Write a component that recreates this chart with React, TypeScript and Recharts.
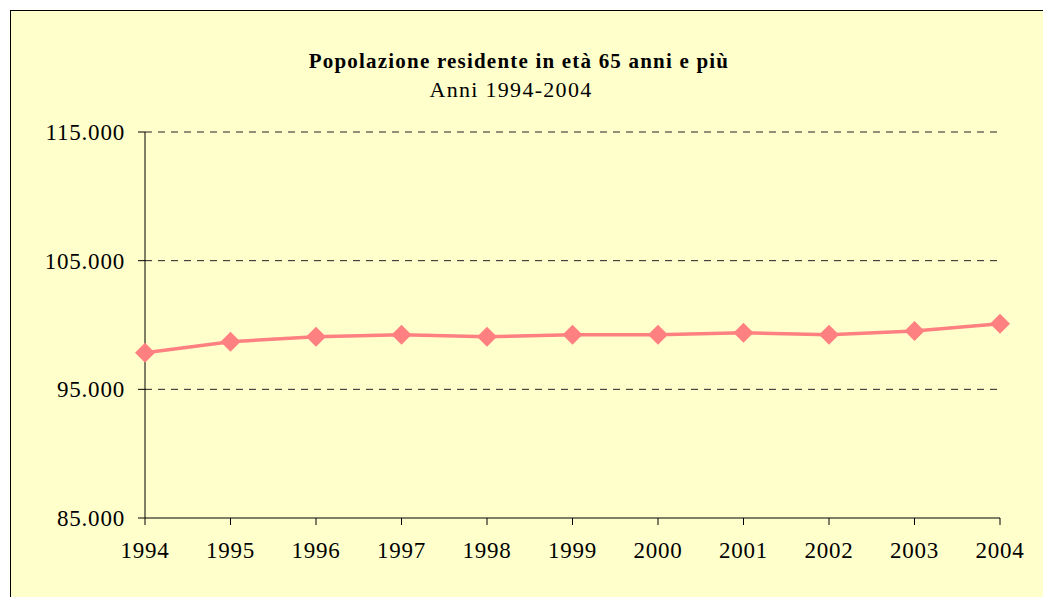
import { LineChart, Line, XAxis, YAxis, CartesianGrid } from "recharts";

const years = ["1994", "1995", "1996", "1997", "1998", "1999", "2000", "2001", "2002", "2003", "2004"];
const population = [97850, 98700, 99090, 99250, 99090, 99250, 99250, 99400, 99250, 99530, 100100];
const yTicks = [85000, 95000, 105000, 115000];
const gridValues = [95000, 105000, 115000];

const data = years.map((year, i) => ({ year, value: population[i] }));

// 85000 -> "85.000"
function formatThousands(v: number): string {
  return String(Math.round(v)).replace(/\B(?=(\d{3})+(?!\d))/g, ".");
}

const PINK = "#FF8080";
const FONT = "'Liberation Serif', 'Times New Roman', serif";

function Diamond(props: any) {
  const { cx, cy, index } = props;
  if (cx == null || cy == null) return null;
  const r = 10;
  return (
    <path
      key={`d-${index}`}
      d={`M${cx},${cy - r} L${cx + r},${cy} L${cx},${cy + r} L${cx - r},${cy} Z`}
      fill={PINK}
    />
  );
}

export default function App() {
  const W = 1032;
  const H = 586;
  const tickStyle = { fill: "#000", fontSize: 23, fontFamily: FONT, letterSpacing: 0.8 };
  return (
    <div
      style={{
        position: "absolute",
        left: 10,
        top: 10,
        width: 1033,
        height: 587,
        boxSizing: "border-box",
        borderTop: "1px solid #000",
        borderLeft: "1px solid #000",
        background: "#FFFFCC",
        overflow: "hidden",
      }}
    >
      <svg width={W} height={H} style={{ position: "absolute", left: 0, top: 0 }}>
        <text
          x={508}
          y={57}
          textAnchor="middle"
          fontFamily={FONT}
          fontWeight="bold"
          fontSize={21}
          letterSpacing={1.2}
          fill="#000"
        >
          Popolazione residente in età 65 anni e più
        </text>
        <text
          x={500}
          y={86}
          textAnchor="middle"
          fontFamily={FONT}
          fontSize={22}
          letterSpacing={1.3}
          fill="#000"
        >
          Anni 1994-2004
        </text>
      </svg>
      <div style={{ position: "absolute", left: 0, top: 0 }}>
        <LineChart
          width={W}
          height={H}
          data={data}
          margin={{ top: 121, right: 43, left: 34, bottom: 39 }}
        >
          <CartesianGrid
            vertical={false}
            horizontalValues={gridValues}
            stroke="#222"
            strokeDasharray="7 6"
            fill="none"
          />
          <XAxis
            dataKey="year"
            height={40}
            interval={0}
            axisLine={{ stroke: "#000" }}
            tickLine={{ stroke: "#000" }}
            tickSize={7}
            tickMargin={17}
            tick={tickStyle}
          />
          <YAxis
            width={100}
            domain={[85000, 115000]}
            ticks={yTicks}
            interval={0}
            allowDataOverflow
            axisLine={{ stroke: "#000" }}
            tickLine={{ stroke: "#000" }}
            tickSize={7}
            tickMargin={13}
            tickFormatter={formatThousands}
            tick={tickStyle}
          />
          <Line
            type="linear"
            dataKey="value"
            stroke={PINK}
            strokeWidth={3.5}
            dot={Diamond}
            activeDot={false}
            isAnimationActive={false}
          />
        </LineChart>
      </div>
    </div>
  );
}
